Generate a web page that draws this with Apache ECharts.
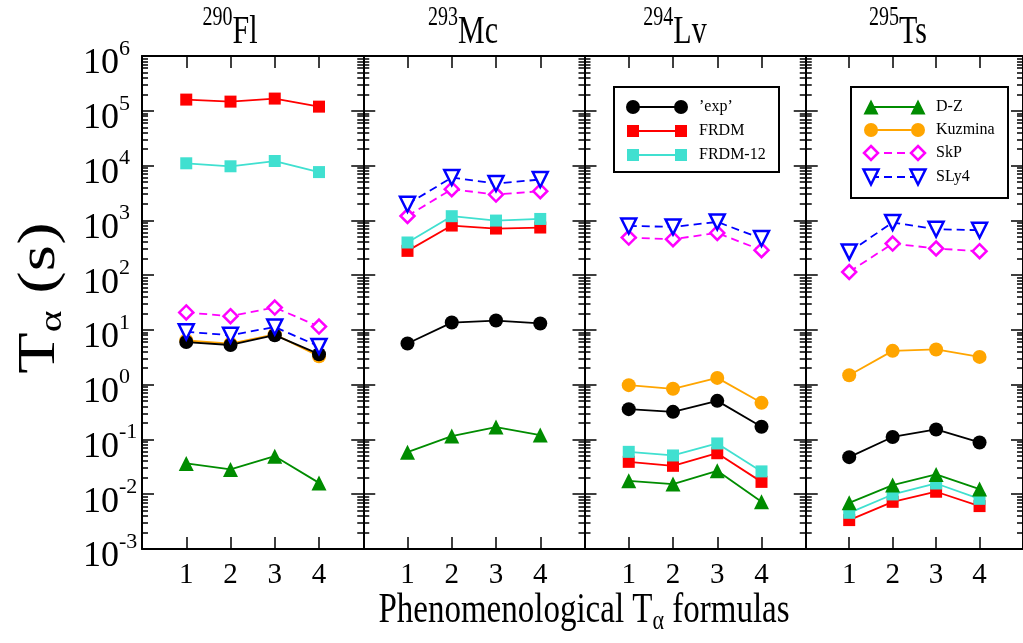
<!DOCTYPE html>
<html><head><meta charset="utf-8">
<script src="https://cdn.jsdelivr.net/npm/echarts@6/dist/echarts.min.js"></script>
<style>html,body{margin:0;padding:0;background:#fff}#c{width:1023px;height:643px}</style>
</head><body><div id="c"></div>
<script>
// ---------------- data ----------------
const panelMass = ['290', '293', '294', '295'];
const panelSymbol = ['Fl', 'Mc', 'Lv', 'Ts'];
const formulas = [1, 2, 3, 4];
const yMajorTicks = [1e-3, 1e-2, 1e-1, 1, 1e1, 1e2, 1e3, 1e4, 1e5, 1e6];

// half-lives (s), one array of 4 values per panel (Fl, Mc, Lv, Ts)
const kuzmina = [[6.4, 5.6, 8.3, 3.3], [], [0.98, 0.84, 1.33, 0.466], [1.49, 4.14, 4.39, 3.21]];
const expT    = [[6.0, 5.3, 8.0, 3.6], [5.65, 13.6, 14.8, 13.1], [0.357, 0.319, 0.506, 0.17], [0.0475, 0.111, 0.152, 0.088]];
const frdm    = [[1.6e5, 1.47e5, 1.67e5, 1.19e5], [277, 803, 708, 739], [0.039, 0.033, 0.056, 0.0168], [0.00337, 0.00727, 0.0111, 0.00607]];
const frdm12  = [[1.1e4, 9.7e3, 1.21e4, 7.6e3], [394, 1190, 990, 1060], [0.0594, 0.051, 0.0845, 0.0261], [0.00458, 0.0099, 0.0157, 0.00824]];
const dz      = [[0.0365, 0.0284, 0.0495, 0.0161], [0.0586, 0.115, 0.168, 0.12], [0.0176, 0.0153, 0.0267, 0.00726], [0.00697, 0.01466, 0.023, 0.0124]];
const skp     = [[20.8, 17.8, 25.6, 11.5], [1200, 3700, 2960, 3400], [485, 452, 589, 285], [114, 377, 306, 273]];
const sly4    = [[9.2, 8.0, 11.3, 5.0], [1970, 6040, 4700, 5560], [790, 759, 935, 466], [265, 912, 688, 660]];

// ---------------- styles ----------------
const FONT = '"Liberation Serif", "Times New Roman", serif';
const styles = {
  kuzmina: {name: 'Kuzmina', symbol: 'circle', size: 14, fill: '#ffa500', stroke: '#ffa500', lw: 0, line: '#ffa500', dash: null},
  exp:     {name: '\u2019exp\u2019', symbol: 'circle', size: 14, fill: '#000000', stroke: '#000000', lw: 0, line: '#000000', dash: null},
  frdm:    {name: 'FRDM', symbol: 'rect', size: 12, fill: '#ff0000', stroke: '#ff0000', lw: 0, line: '#ff0000', dash: null},
  frdm12:  {name: 'FRDM-12', symbol: 'rect', size: 12, fill: '#40e0d0', stroke: '#40e0d0', lw: 0, line: '#40e0d0', dash: null},
  dz:      {name: 'D-Z', symbol: 'triangle', size: 15, fill: '#008c00', stroke: '#008c00', lw: 0, line: '#008c00', dash: null},
  skp:     {name: 'SkP', symbol: 'diamond', size: 14, fill: '#ffffff', stroke: '#ff00ff', lw: 2.5, line: '#ff00ff', dash: [8, 5]},
  sly4:    {name: 'SLy4', symbol: 'downTriangle', size: 15, fill: '#ffffff', stroke: '#0000ff', lw: 2.5, line: '#0000ff', dash: [8, 5]}
};
const seriesOrder = [['kuzmina', kuzmina], ['exp', expT], ['frdm', frdm], ['frdm12', frdm12], ['dz', dz], ['skp', skp], ['sly4', sly4]];

// ---------------- layout ----------------
const G_LEFT = 142, G_W = 221.25, G_TOP = 56, G_H = 493;
const minorTicks = [];
for (let k = -3; k < 6; k++) for (let m = 2; m <= 9; m++) minorTicks.push(m * Math.pow(10, k));

const grids = [], xAxes = [], yAxes = [], series = [];
for (let i = 0; i < 4; i++) {
  grids.push({left: G_LEFT + i * G_W, top: G_TOP, width: G_W, height: G_H});
  const xBase = {
    type: 'value', gridIndex: i, min: 0, max: 5, interval: 1,
    axisLine: {show: true, onZero: false, lineStyle: {color: '#000', width: 2}},
    axisTick: {show: true, inside: true, length: 12, customValues: formulas, lineStyle: {color: '#000', width: 1.5}},
    splitLine: {show: false}
  };
  xAxes.push(Object.assign({}, xBase, {position: 'bottom',
    axisLabel: {show: true, customValues: formulas, margin: 12, fontSize: 29, fontFamily: FONT, color: '#000'}}));
  xAxes.push(Object.assign({}, xBase, {position: 'top', axisLabel: {show: false}}));
  const yBase = {
    type: 'log', logBase: 10, gridIndex: i, min: 1e-3, max: 1e6,
    splitLine: {show: false}, axisLabel: {show: false}
  };
  ['left', 'right'].forEach(pos => {
    yAxes.push(Object.assign({}, yBase, {
      position: pos,
      axisLine: {show: true, onZero: false, lineStyle: {color: '#000', width: 2}},
      axisTick: {show: true, inside: true, length: 12, customValues: yMajorTicks, lineStyle: {color: '#000', width: 1.5}},
      axisLabel: (pos === 'left' && i === 0) ? {
        show: true, customValues: yMajorTicks, margin: 59, align: 'left', color: '#000',
        formatter: v => '{b|10}{s|' + Math.round(Math.log10(v)) + '}',
        rich: {
          b: {fontSize: 36, fontFamily: FONT, color: '#000', padding: [16, 0, 0, 0]},
          s: {fontSize: 22, fontFamily: FONT, color: '#000', padding: [0, 0, 14, 0]}
        }
      } : {show: false}
    }));
    yAxes.push(Object.assign({}, yBase, {
      position: pos,
      axisLine: {show: false, onZero: false},
      axisTick: {show: true, inside: true, length: 6, customValues: minorTicks, lineStyle: {color: '#000', width: 1.5}}
    }));
  });

  seriesOrder.forEach(([key, arr], si) => {
    const vals = arr[i];
    if (!vals || !vals.length) return;
    const st = styles[key];
    series.push({
      type: 'line', name: st.name, xAxisIndex: 2 * i, yAxisIndex: 4 * i,
      data: formulas.map((f, k) => [f, vals[k]]),
      symbol: st.symbol === 'downTriangle' ? 'triangle' : st.symbol,
      symbolRotate: st.symbol === 'downTriangle' ? 180 : 0,
      symbolSize: st.size,
      showAllSymbol: true,
      z: 2 + si,
      itemStyle: {color: st.fill, borderColor: st.stroke, borderWidth: st.lw, opacity: 1},
      lineStyle: {color: st.line, width: 1.8, type: st.dash || 'solid'},
      emphasis: {disabled: true},
      silent: true
    });
  });
}

// ---------------- graphic: titles, axis names, legends ----------------
const graphics = [];
const titleX = [230, 463, 675, 898];
for (let i = 0; i < 4; i++) {
  graphics.push({
    type: 'text', x: titleX[i], y: 27, scaleY: 1.35, z: 100,
    style: {
      text: '{s|' + panelMass[i] + '}{b|' + panelSymbol[i] + '}',
      align: 'center', verticalAlign: 'middle',
      rich: {
        b: {fontSize: 30, fontFamily: FONT, fill: '#000', padding: [8, 0, 0, 0]},
        s: {fontSize: 20, fontFamily: FONT, fill: '#000', padding: [0, 0, 14, 0]}
      }
    }
  });
}
graphics.push({
  type: 'text', x: 40, y: 298, rotation: Math.PI / 2, scaleX: 1.3, z: 100,
  style: {
    text: '{b|T}{a|\u03b1}{b| (s)}', align: 'center', verticalAlign: 'middle',
    rich: {
      b: {fontSize: 52, fontFamily: FONT, fill: '#000'},
      a: {fontSize: 32, fontFamily: FONT, fill: '#000', padding: [26, 0, 0, 0]}
    }
  }
});
graphics.push({
  type: 'text', x: 584, y: 611, scaleY: 1.25, z: 100,
  style: {
    text: '{b|Phenomenological T}{a|\u03b1}{b| formulas}', align: 'center', verticalAlign: 'middle',
    rich: {
      b: {fontSize: 33, fontFamily: FONT, fill: '#000'},
      a: {fontSize: 22, fontFamily: FONT, fill: '#000', padding: [18, 0, 0, 0]}
    }
  }
});

function sym(st, cx, cy) {
  const s = st.size, h = s / 2;
  const style = {fill: st.fill, stroke: st.lw ? st.stroke : null, lineWidth: st.lw};
  if (st.symbol === 'circle') return {type: 'circle', z: 102, shape: {cx, cy, r: h}, style};
  if (st.symbol === 'rect') return {type: 'rect', z: 102, shape: {x: cx - h, y: cy - h, width: s, height: s}, style};
  let pts;
  if (st.symbol === 'triangle') pts = [[cx, cy - h], [cx + h, cy + h], [cx - h, cy + h]];
  else if (st.symbol === 'downTriangle') pts = [[cx - h, cy - h], [cx + h, cy - h], [cx, cy + h]];
  else pts = [[cx, cy - h], [cx + h, cy], [cx, cy + h], [cx - h, cy]];
  return {type: 'polygon', z: 102, shape: {points: pts}, style};
}
function legendBox(box, keys) {
  graphics.push({type: 'rect', z: 100, shape: {x: box.x, y: box.y, width: box.w, height: box.h},
    style: {fill: '#fff', stroke: '#000', lineWidth: 2}});
  keys.forEach((key, r) => {
    const st = styles[key];
    const y = box.rows[r];
    graphics.push({type: 'line', z: 101, shape: {x1: box.s1, y1: y, x2: box.s2, y2: y},
      style: {stroke: st.line, lineWidth: 1.8, lineDash: st.dash || null}});
    graphics.push(sym(st, box.s1, y));
    graphics.push(sym(st, box.s2, y));
    graphics.push({type: 'text', z: 102, x: box.tx, y: y,
      style: {text: st.name, fontSize: 16, fontFamily: FONT, fill: '#000', verticalAlign: 'middle', align: 'left'}});
  });
}
legendBox({x: 614, y: 87, w: 165, h: 85, rows: [107, 131, 155], s1: 633, s2: 681, tx: 699}, ['exp', 'frdm', 'frdm12']);
legendBox({x: 851, y: 87, w: 157, h: 111, rows: [107, 130, 153, 177], s1: 871, s2: 918, tx: 936}, ['dz', 'kuzmina', 'skp', 'sly4']);

const chart = echarts.init(document.getElementById('c'), null, {renderer: 'canvas'});
chart.setOption({
  animation: false,
  backgroundColor: '#fff',
  grid: grids, xAxis: xAxes, yAxis: yAxes, series: series,
  graphic: graphics
});
</script>
</body></html>
